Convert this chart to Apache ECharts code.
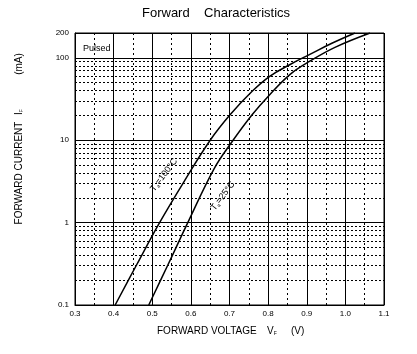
<!DOCTYPE html>
<html>
<head>
<meta charset="utf-8">
<script src="https://cdn.jsdelivr.net/npm/echarts@6/dist/echarts.min.js"></script>
<style>
html, body { margin: 0; padding: 0; background: #fff; }
#chart { width: 417px; height: 354px; }
</style>
</head>
<body>
<div id="chart"></div>
<script>
// forward voltage (V) vs forward current (mA)
var v100 = [0.404, 0.460, 0.519, 0.585, 0.650, 0.702, 0.758, 0.805, 0.857, 0.908, 0.965, 1.025];
var i100 = [0.1, 0.31, 1, 3.3, 10, 20.5, 39, 60, 83, 110, 150, 200];
var v25 = [0.491, 0.541, 0.592, 0.660, 0.706, 0.759, 0.800, 0.857, 0.908, 0.973, 1.064];
var i25 = [0.1, 0.31, 1, 4.5, 9.5, 20.5, 34, 63, 91, 134, 200];

// dotted minor lines of the log grid
var minorCurrents = [0.2, 0.3, 0.4, 0.5, 0.6, 0.7, 0.8, 0.9,
                     2, 3, 4, 5, 6, 7, 8, 9,
                     20, 30, 40, 50, 60, 70, 80, 90];

var font = 'Liberation Sans, Arial, sans-serif';

function pairs(xs, ys) {
    var out = [];
    for (var i = 0; i < xs.length; i++) {
        out.push([xs[i], ys[i]]);
    }
    return out;
}

var subStyle = { fontSize: 5, fill: '#000', verticalAlign: 'bottom', padding: [6, 0, 0, 0] };

var myChart = echarts.init(document.getElementById('chart'));

var option = {
    animation: false,
    backgroundColor: '#fff',
    textStyle: { fontFamily: font },
    title: {
        text: 'Forward    Characteristics',
        left: 142,
        top: 7,
        padding: 0,
        textStyle: { fontSize: 13, fontWeight: 'normal', color: '#000', fontFamily: font }
    },
    grid: {
        left: 75, right: 33, top: 33, bottom: 49,
        show: true, borderColor: '#000', borderWidth: 1
    },
    xAxis: {
        type: 'value',
        min: 0.3, max: 1.1, interval: 0.1,
        axisLine: { lineStyle: { color: '#000', width: 1 } },
        axisTick: { show: false },
        axisLabel: {
            fontSize: 8, color: '#000', margin: 5,
            formatter: function (v) { return v.toFixed(1); }
        },
        splitLine: { show: true, lineStyle: { color: '#000', width: 1 } },
        minorTick: { show: false, splitNumber: 2 },
        minorSplitLine: { show: true, lineStyle: { color: '#000', width: 1, type: [2, 3] } }
    },
    yAxis: {
        type: 'log',
        logBase: 10,
        min: 0.1, max: 200,
        axisLine: { lineStyle: { color: '#000', width: 1 } },
        axisTick: { show: false },
        axisLabel: {
            fontSize: 8, color: '#000', margin: 6,
            formatter: function (v) { return v < 1 ? v.toFixed(1) : String(Math.round(v)); }
        },
        splitLine: { show: true, lineStyle: { color: '#000', width: 1 } }
    },
    graphic: [
        {
            type: 'text', left: 83, top: 44,
            style: { text: 'Pulsed', font: '9px ' + font, fill: '#000' }
        },
        // x axis name
        {
            type: 'text', x: 157, y: 331,
            style: { text: 'FORWARD VOLTAGE', font: '10px ' + font, fill: '#000', verticalAlign: 'middle' }
        },
        {
            type: 'text', x: 267, y: 331,
            style: { text: 'V{s|F}', font: '10px ' + font, fill: '#000', verticalAlign: 'middle', rich: { s: subStyle } }
        },
        {
            type: 'text', x: 291, y: 331,
            style: { text: '(V)', font: '10px ' + font, fill: '#000', verticalAlign: 'middle' }
        },
        // y axis name, rotated
        {
            type: 'text', x: 19, y: 173, rotation: Math.PI / 2,
            style: { text: 'FORWARD CURRENT', font: '10px ' + font, fill: '#000', align: 'center', verticalAlign: 'middle' }
        },
        {
            type: 'text', x: 19, y: 112, rotation: Math.PI / 2,
            style: { text: 'I{s|F}', font: '10px ' + font, fill: '#000', align: 'center', verticalAlign: 'middle', rich: { s: subStyle } }
        },
        {
            type: 'text', x: 19, y: 64, rotation: Math.PI / 2,
            style: { text: '(mA)', font: '10px ' + font, fill: '#000', align: 'center', verticalAlign: 'middle' }
        },
        // curve labels
        {
            type: 'text', x: 164, y: 175, rotation: 53 * Math.PI / 180,
            style: {
                text: 'T{s|a}=100°C',
                font: '9px ' + font, fill: '#000',
                align: 'center', verticalAlign: 'middle',
                rich: { s: { fontSize: 5, fill: '#000', verticalAlign: 'bottom', padding: [5, 0, 0, 0] } }
            }
        },
        {
            type: 'text', x: 223, y: 196, rotation: 53 * Math.PI / 180,
            style: {
                text: 'T{s|a}=25°C',
                font: '9px ' + font, fill: '#000',
                align: 'center', verticalAlign: 'middle',
                rich: { s: { fontSize: 5, fill: '#000', verticalAlign: 'bottom', padding: [5, 0, 0, 0] } }
            }
        }
    ],
    series: [
        {
            name: 'Ta=100C',
            type: 'line',
            smooth: 0.4,
            showSymbol: false,
            lineStyle: { color: '#000', width: 1.5 },
            data: pairs(v100, i100),
            markLine: {
                silent: true,
                symbol: 'none',
                label: { show: false },
                lineStyle: { color: '#000', width: 1, type: [2, 2] },
                data: minorCurrents.map(function (c) { return { yAxis: c }; })
            }
        },
        {
            name: 'Ta=25C',
            type: 'line',
            smooth: 0.4,
            showSymbol: false,
            lineStyle: { color: '#000', width: 1.5 },
            data: pairs(v25, i25)
        }
    ]
};

myChart.setOption(option);
</script>
</body>
</html>
